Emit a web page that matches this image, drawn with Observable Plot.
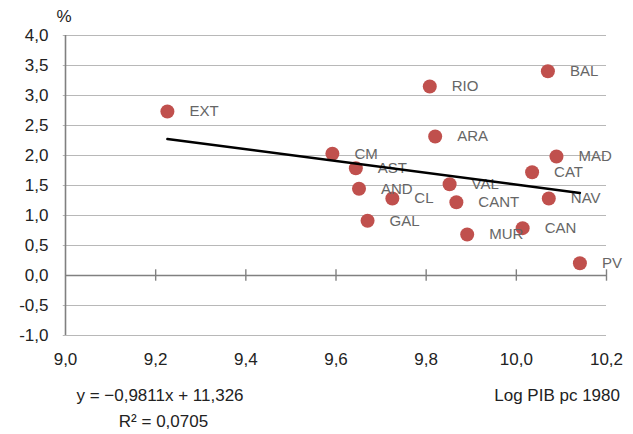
<!DOCTYPE html>
<html>
<head>
<meta charset="utf-8">
<script src="https://cdn.jsdelivr.net/npm/d3@7"></script>
<script src="https://cdn.jsdelivr.net/npm/@observablehq/plot@0.6"></script>
<style>
  html, body { margin: 0; padding: 0; background: #fff; }
</style>
</head>
<body>
<div id="chart"></div>
<script>
// Regions (labels), log GDP per capita 1980 (x), growth % (y)
const regions = ["EXT","CM","AST","AND","CL","GAL","VAL","CANT","MUR","RIO","ARA","BAL","MAD","CAT","NAV","CAN","PV"];
const logPIB  = [9.226, 9.592, 9.644, 9.651, 9.725, 9.670, 9.852, 9.867, 9.891, 9.808, 9.820, 10.070, 10.089, 10.035, 10.072, 10.014, 10.141];
const growth  = [2.733, 2.028, 1.788, 1.445, 1.283, 0.912, 1.522, 1.222, 0.683, 3.150, 2.317, 3.405, 1.983, 1.722, 1.283, 0.789, 0.205];

const yTicks = [-1, -0.5, 0, 0.5, 1, 1.5, 2, 2.5, 3, 3.5, 4];
const xTicks = [9.0, 9.2, 9.4, 9.6, 9.8, 10.0, 10.2];

// Linear trend as stated in the chart
const slope = -0.9811, intercept = 11.326;
const trendX = [9.226, 10.141];

const data = regions.map((r, i) => ({name: r, x: logPIB[i], y: growth[i]}));
const trend = trendX.map(x => ({x, y: slope * x + intercept}));
const fmt = d => d.toFixed(1).replace(".", ",");

const font = "'Liberation Sans', Arial, Helvetica, sans-serif";

const chart = Plot.plot({
  width: 633,
  height: 434,
  marginTop: 35,
  marginBottom: 99,
  marginLeft: 65,
  marginRight: 27,
  style: {fontFamily: font, fontSize: "17px", color: "#222", background: "#fff"},
  x: {domain: [9.0, 10.2]},
  y: {domain: [-1, 4]},
  marks: [
    Plot.ruleY(yTicks.filter(d => d !== 0), {y: d => d, x1: 8.995, x2: 10.2, stroke: "#b8b8b8", strokeWidth: 1.2}),
    Plot.ruleY([0], {stroke: "#808080", strokeWidth: 1.6}),
    Plot.ruleX([9.0], {y1: -1, y2: 4, stroke: "#808080", strokeWidth: 1.6}),
    Plot.ruleX(xTicks.filter(d => d > 9), {x: d => d, y1: -0.095, y2: 0.095, stroke: "#808080", strokeWidth: 1.4}),
    Plot.axisY({ticks: yTicks, tickFormat: fmt, tickSize: 0, tickPadding: 17, label: null, fill: "#222"}),
    Plot.axisX({ticks: xTicks, tickFormat: fmt, tickSize: 0, tickPadding: 17, label: null, fill: "#222"}),
    Plot.dot(data, {x: "x", y: "y", r: 7, fill: "#c0504d", stroke: "none"}),
    Plot.text(data, {x: "x", y: "y", text: "name", dx: 22, textAnchor: "start", fill: "#666", fontSize: 15}),
    Plot.line(trend, {x: "x", y: "y", stroke: "#000", strokeWidth: 2.5})
  ]
});

const svg = d3.select(chart);
svg.append("text").attr("x", 64).attr("y", 22).attr("font-family", font).attr("font-size", 17).attr("fill", "#222").text("%");
svg.append("text").attr("x", 160).attr("y", 401).attr("text-anchor", "middle").attr("font-family", font).attr("font-size", 17).attr("fill", "#222").text("y = \u22120,9811x + 11,326");
svg.append("text").attr("x", 163.5).attr("y", 427).attr("text-anchor", "middle").attr("font-family", font).attr("font-size", 17).attr("fill", "#222").text("R\u00B2 = 0,0705");
svg.append("text").attr("x", 620).attr("y", 401).attr("text-anchor", "end").attr("font-family", font).attr("font-size", 17).attr("fill", "#222").text("Log PIB pc 1980");

document.getElementById("chart").appendChild(chart);
</script>
</body>
</html>
